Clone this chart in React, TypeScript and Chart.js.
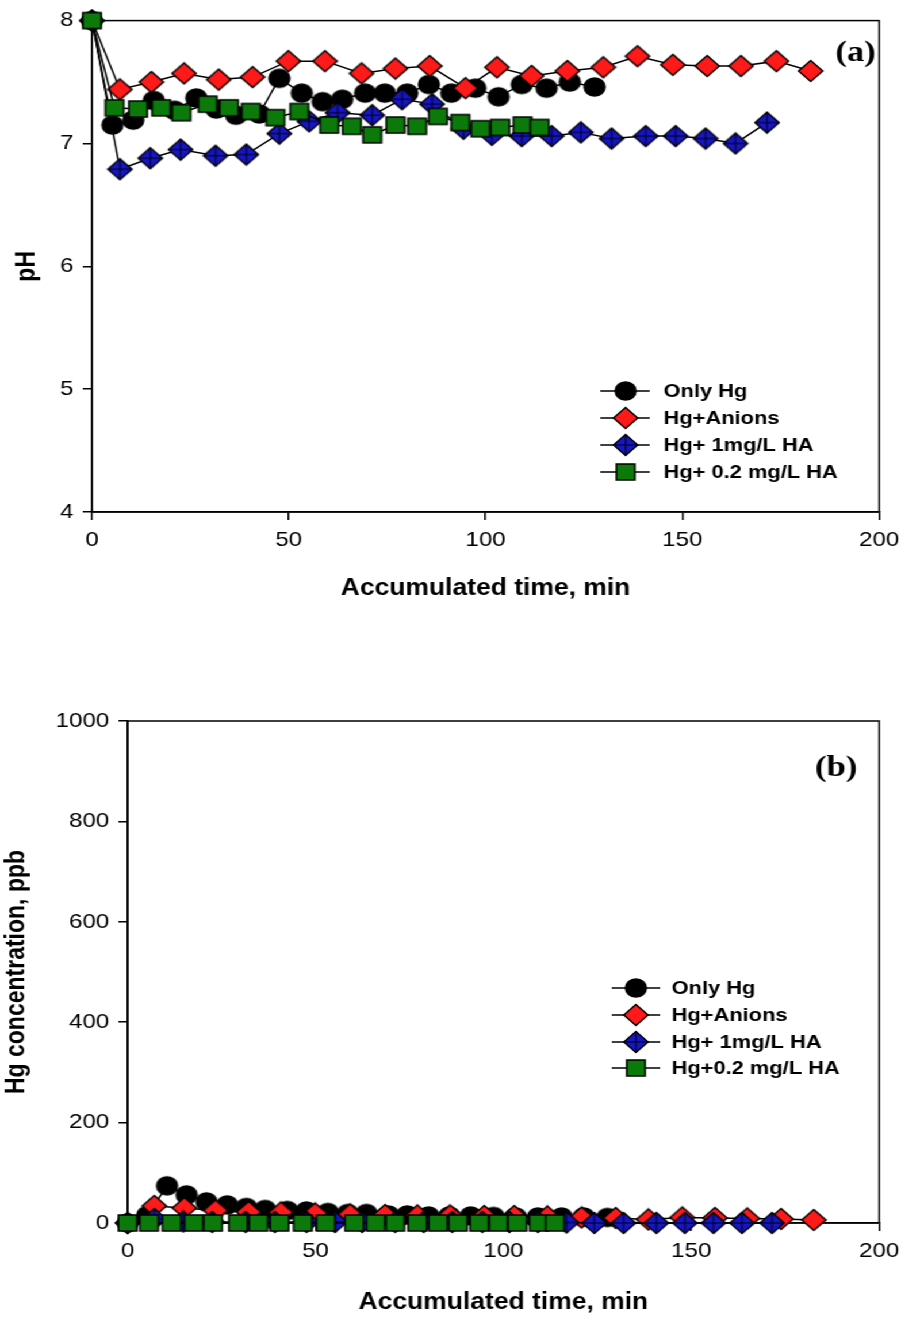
import { useEffect, useRef } from "react";
import { Chart, registerables } from "chart.js";

Chart.register(...registerables);

// The figure is drawn on a narrower canvas and widened horizontally.
const STRETCH = 1.15;
const LOGICAL_W = 790;
const SANS = '"Liberation Sans", Arial, sans-serif';
const SERIF = '"Liberation Serif", "Times New Roman", serif';

// ---- axis ticks ----
const timeTicks = [0, 50, 100, 150, 200];
const pHTicks = [4, 5, 6, 7, 8];
const ppbTicks = [0, 200, 400, 600, 800, 1000];

// ---- series: Only Hg ----
const onlyHgTime = [0, 5.2, 10.5, 15.7, 21, 26.5, 31.6, 36.6, 42.5, 47.6, 53.3, 58.6, 63.6, 69.4, 74.4, 80.1, 85.6, 91.3, 97.4, 103.3, 109.2, 115.5, 121.4, 127.7];
const onlyHgPH = [8, 7.15, 7.19, 7.35, 7.27, 7.37, 7.28, 7.23, 7.24, 7.53, 7.41, 7.34, 7.36, 7.41, 7.41, 7.41, 7.48, 7.41, 7.45, 7.38, 7.48, 7.45, 7.5, 7.46];
const onlyHgPpb = [0, 15, 74, 56, 42, 36, 31, 27, 25, 24, 21, 19, 19, 16, 16, 14, 14, 14, 13, 12, 12, 12, 12, 11];

// ---- series: Hg + Anions ----
const anionsTime = [0, 7.1, 15.1, 23.4, 32.2, 40.8, 49.9, 59.2, 68.5, 77.1, 85.8, 94.9, 102.9, 111.7, 120.8, 129.9, 138.6, 147.6, 156.3, 164.9, 173.9, 182.6];
const anionsPH = [8, 7.44, 7.5, 7.57, 7.52, 7.54, 7.67, 7.67, 7.57, 7.61, 7.63, 7.45, 7.62, 7.55, 7.59, 7.62, 7.71, 7.64, 7.63, 7.63, 7.67, 7.59];
const anionsPpb = [0, 34, 30, 25, 22, 21, 19, 17, 16, 15, 15, 14, 14, 13, 11, 10, 7, 11, 10, 9, 8, 6];

// ---- series: Hg + 1 mg/L HA ----
const ha1Time = [0, 7.1, 14.8, 22.5, 31.4, 39.2, 47.6, 55.2, 62.4, 71.2, 78.8, 86.4, 94.4, 101.6, 109.2, 116.8, 124.2, 132, 140.7, 148.3, 155.9, 163.5, 171.5];
const ha1PH = [8, 6.79, 6.88, 6.95, 6.9, 6.91, 7.08, 7.18, 7.25, 7.23, 7.36, 7.32, 7.12, 7.07, 7.06, 7.06, 7.09, 7.04, 7.06, 7.06, 7.04, 7.0, 7.17];
const ha1Ppb = [0, 8, 3, 2, 2, 2, 2, 2, 2, 2, 2, 2, 2, 2, 2, 1, 0, 0, 0, 0, 0, 0, 0];

// ---- series: Hg + 0.2 mg/L HA ----
const ha02Time = [0, 5.7, 11.7, 17.6, 22.7, 29.4, 34.8, 40.4, 46.6, 52.7, 60.3, 66, 71.2, 77.1, 82.6, 87.9, 93.6, 98.7, 103.7, 109.4, 113.7];
const ha02PH = [8, 7.29, 7.28, 7.29, 7.25, 7.32, 7.29, 7.26, 7.21, 7.26, 7.15, 7.14, 7.07, 7.15, 7.14, 7.22, 7.17, 7.12, 7.13, 7.15, 7.13];
const ha02Ppb = [0, 0, 0, 0, 0, 0, 0, 0, 0, 0, 0, 0, 0, 0, 0, 0, 0, 0, 0, 0, 0];

// ---- legend labels ----
const legendTop = ["Only Hg", "Hg+Anions", "Hg+ 1mg/L HA", "Hg+ 0.2 mg/L HA"];
const legendBottom = ["Only Hg", "Hg+Anions", "Hg+ 1mg/L HA", "Hg+0.2 mg/L HA"];

type MarkerKind = "circle" | "diamond" | "crossDiamond" | "square";

function makeMarker(kind: MarkerKind, fill: string): HTMLCanvasElement {
  const size = 24;
  const c = document.createElement("canvas");
  c.width = size;
  c.height = size;
  const g = c.getContext("2d")!;
  const m = size / 2;
  g.lineWidth = 1.5;
  g.strokeStyle = "#000";
  g.fillStyle = fill;
  if (kind === "circle") {
    g.beginPath();
    g.arc(m, m, 9, 0, Math.PI * 2);
    g.fill();
    g.stroke();
  } else if (kind === "square") {
    g.fillRect(m - 8, m - 8, 16, 16);
    g.strokeRect(m - 8, m - 8, 16, 16);
  } else {
    const h = 10.5;
    g.beginPath();
    g.moveTo(m, m - h);
    g.lineTo(m + h, m);
    g.lineTo(m, m + h);
    g.lineTo(m - h, m);
    g.closePath();
    g.fill();
    if (kind === "crossDiamond") {
      g.lineWidth = 1;
      g.beginPath();
      g.moveTo(m, m - h);
      g.lineTo(m, m + h);
      g.moveTo(m - h, m);
      g.lineTo(m + h, m);
      g.stroke();
      g.lineWidth = 1.5;
    }
    g.beginPath();
    g.moveTo(m, m - h);
    g.lineTo(m + h, m);
    g.lineTo(m, m + h);
    g.lineTo(m - h, m);
    g.closePath();
    g.stroke();
  }
  return c;
}

interface PanelSpec {
  height: number;
  padTop: number;
  padRight: number;
  yWidth: number;
  xHeight: number;
  yTitle: string;
  yTitlePad: number;
  xTitlePad: number;
  yTicks: number[];
  values: number[][];
  legend: string[];
  legendX: { lineStart: number; lineEnd: number; marker: number; text: number };
  legendY: number[];
  tag: string;
  tagRight: number;
  tagY: number;
}

function buildConfig(spec: PanelSpec): any {
  const markers = [
    makeMarker("circle", "#000000"),
    makeMarker("diamond", "#ff1a1a"),
    makeMarker("crossDiamond", "#1616c8"),
    makeMarker("square", "#0b7a0b"),
  ];
  const times = [onlyHgTime, anionsTime, ha1Time, ha02Time];
  const drawOrder = [3, 2, 1, 0];

  const datasets = times.map((ts, k) => ({
    label: spec.legend[k],
    data: ts.map((t, i) => ({ x: t, y: spec.values[k][i] })),
    borderColor: "#000",
    borderWidth: 1.5,
    pointStyle: markers[k],
    pointRadius: 9,
    tension: 0,
    clip: false,
    order: drawOrder[k],
  }));

  const decor = {
    id: "panelDecor",
    beforeDatasetsDraw(chart: any) {
      const { ctx, chartArea } = chart;
      ctx.save();
      ctx.strokeStyle = "#000";
      ctx.lineWidth = 1.5;
      ctx.strokeRect(chartArea.left, chartArea.top, chartArea.right - chartArea.left, chartArea.bottom - chartArea.top);
      ctx.restore();
    },
    afterDatasetsDraw(chart: any) {
      const { ctx, chartArea } = chart;
      ctx.save();
      spec.legend.forEach((txt, k) => {
        const y = spec.legendY[k];
        ctx.strokeStyle = "#000";
        ctx.lineWidth = 1.5;
        ctx.beginPath();
        ctx.moveTo(spec.legendX.lineStart, y);
        ctx.lineTo(spec.legendX.lineEnd, y);
        ctx.stroke();
        const mk = markers[k];
        ctx.drawImage(mk, spec.legendX.marker - mk.width / 2, y - mk.height / 2);
        ctx.fillStyle = "#000";
        ctx.font = `bold 19px ${SANS}`;
        ctx.textAlign = "left";
        ctx.textBaseline = "middle";
        ctx.fillText(txt, spec.legendX.text, y + 1);
      });
      ctx.font = `bold 30px ${SERIF}`;
      ctx.textAlign = "right";
      ctx.textBaseline = "middle";
      ctx.fillStyle = "#000";
      ctx.fillText(spec.tag, chartArea.right - spec.tagRight, spec.tagY);
      ctx.restore();
    },
  };

  const axisCommon = {
    grid: { drawOnChartArea: false, drawTicks: true, tickLength: 8, color: "#000", lineWidth: 1.5 },
    border: { display: true, color: "#000", width: 1.5 },
  };

  return {
    type: "line",
    data: { datasets },
    plugins: [decor],
    options: {
      responsive: false,
      animation: false,
      events: [],
      layout: { padding: { left: 0, top: spec.padTop, right: spec.padRight, bottom: 0 } },
      plugins: { legend: { display: false }, tooltip: { enabled: false } },
      scales: {
        x: {
          type: "linear",
          min: timeTicks[0],
          max: timeTicks[timeTicks.length - 1],
          afterBuildTicks: (s: any) => {
            s.ticks = timeTicks.map((v) => ({ value: v }));
          },
          ticks: {
            color: "#000",
            font: { family: SANS, size: 21 },
            padding: 8,
            maxRotation: 0,
            callback: (v: any) => String(v),
          },
          title: {
            display: true,
            text: "Accumulated time, min",
            color: "#000",
            font: { family: SANS, size: 23, weight: "bold" },
            padding: { top: 0, bottom: spec.xTitlePad },
          },
          afterFit: (s: any) => {
            s.height = spec.xHeight;
          },
          ...axisCommon,
        },
        y: {
          type: "linear",
          min: spec.yTicks[0],
          max: spec.yTicks[spec.yTicks.length - 1],
          afterBuildTicks: (s: any) => {
            s.ticks = spec.yTicks.map((v) => ({ value: v }));
          },
          ticks: {
            color: "#000",
            font: { family: SANS, size: 21 },
            padding: 8,
            callback: (v: any) => String(v),
          },
          title: {
            display: true,
            text: spec.yTitle,
            color: "#000",
            font: { family: SANS, size: 23, weight: "bold" },
            padding: { top: spec.yTitlePad, bottom: 0 },
          },
          afterFit: (s: any) => {
            s.width = spec.yWidth;
          },
          ...axisCommon,
        },
      },
    },
  };
}

const topSpec = (): PanelSpec => ({
  height: 640,
  padTop: 17,
  padRight: 23,
  yWidth: 80,
  xHeight: 128,
  yTitle: "pH",
  yTitlePad: 10,
  xTitlePad: 38,
  yTicks: pHTicks,
  values: [onlyHgPH, anionsPH, ha1PH, ha02PH],
  legend: legendTop,
  legendX: { lineStart: 522, lineEnd: 565, marker: 544, text: 577 },
  legendY: [391, 418, 445, 472],
  tag: "(a)",
  tagRight: 3,
  tagY: 53,
});

const bottomSpec = (): PanelSpec => ({
  height: 677,
  padTop: 81,
  padRight: 21,
  yWidth: 111,
  xHeight: 94,
  yTitle: "Hg concentration, ppb",
  yTitlePad: 1,
  xTitlePad: 1,
  yTicks: ppbTicks,
  values: [onlyHgPpb, anionsPpb, ha1Ppb, ha02Ppb],
  legend: legendBottom,
  legendX: { lineStart: 532, lineEnd: 574, marker: 553, text: 584 },
  legendY: [988 - 640, 1015 - 640, 1042 - 640, 1068 - 640],
  tag: "(b)",
  tagRight: 19,
  tagY: 128,
});

function Panel({ spec }: { spec: () => PanelSpec }) {
  const ref = useRef<HTMLCanvasElement>(null);
  const s = spec();
  useEffect(() => {
    const chart = new Chart(ref.current as HTMLCanvasElement, buildConfig(spec()));
    return () => chart.destroy();
  }, []);
  return <canvas ref={ref} width={LOGICAL_W} height={s.height} style={{ display: "block" }} />;
}

export default function App() {
  return (
    <div style={{ position: "absolute", left: 0, top: 0, width: 908, height: 1317, overflow: "hidden", background: "#fff" }}>
      <div style={{ width: LOGICAL_W, transform: `scaleX(${STRETCH})`, transformOrigin: "0 0" }}>
        <Panel spec={topSpec} />
        <Panel spec={bottomSpec} />
      </div>
    </div>
  );
}
